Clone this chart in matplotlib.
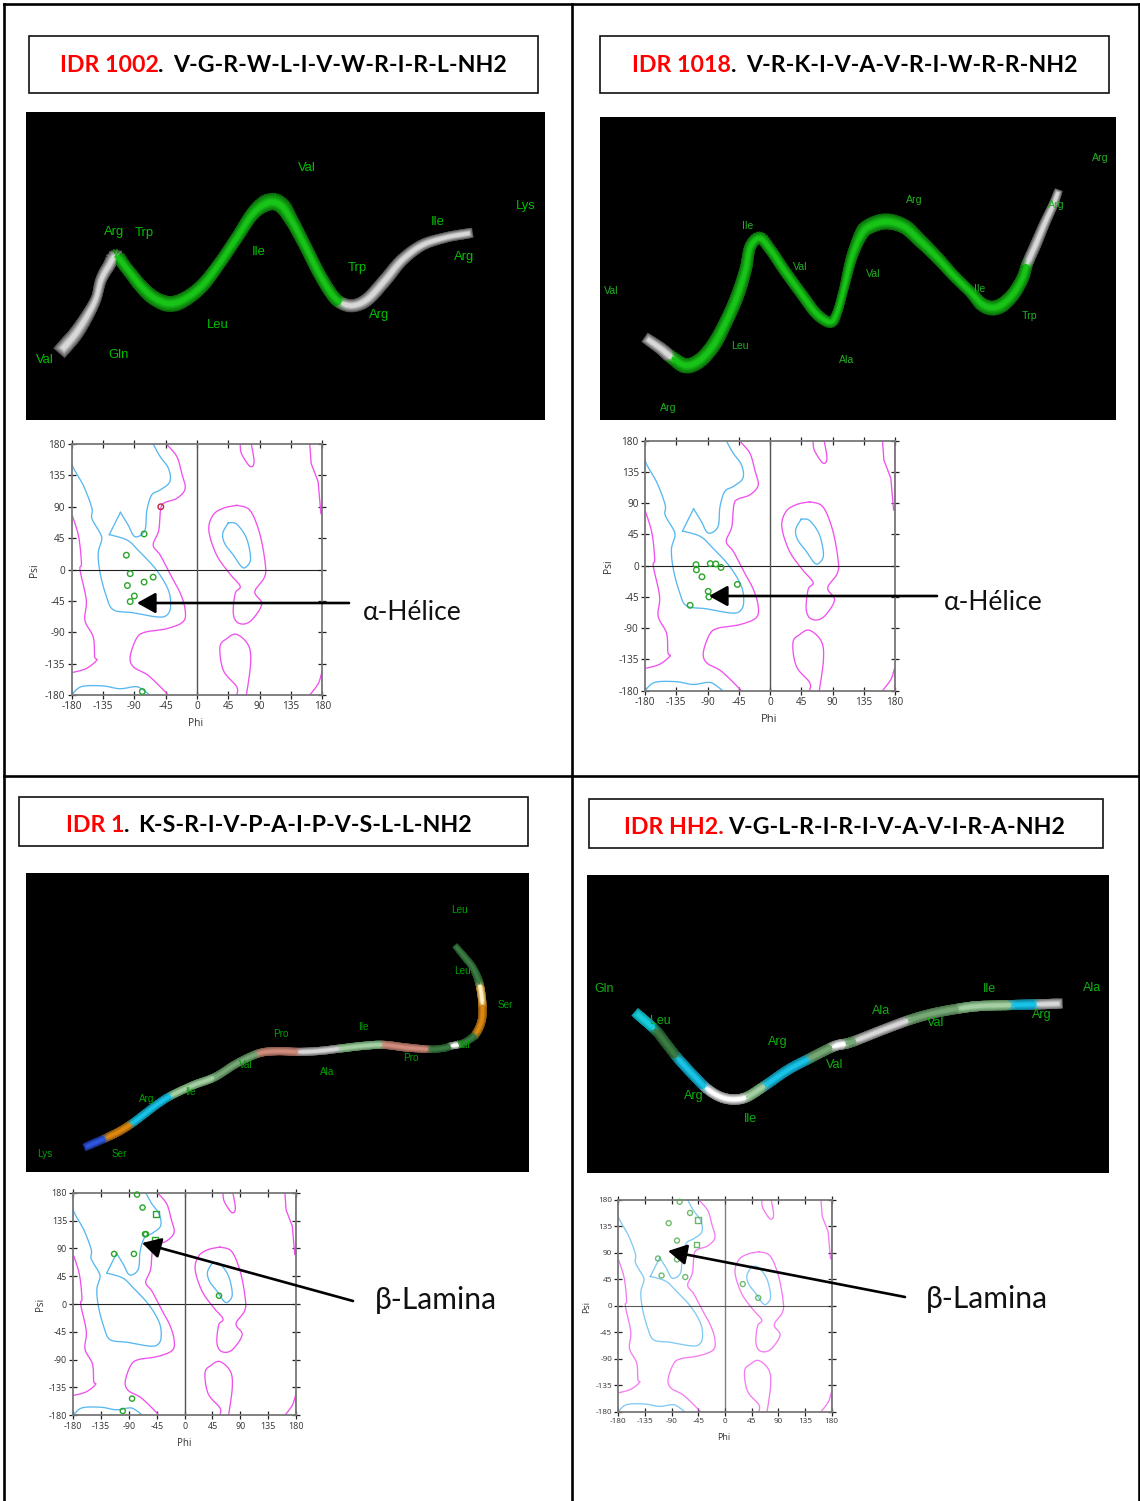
import numpy as np
import matplotlib
matplotlib.use("Agg")
import matplotlib.pyplot as plt
from matplotlib.collections import LineCollection
from matplotlib.colors import to_rgb
from matplotlib.patches import Rectangle

W, H = 1140, 1501

# contornos de Ramachandran (phi, psi), iguales en los cuatro paneles
blue_main_phi = [-180, -180, -163, -151, -151, -139, -137, -142, -139, -130, -120, -92, -58, -44, -38, -41, -58, -82, -100, -126, -110, -99, -89, -75, -72, -65, -53, -39, -41, -53, -63]
blue_main_psi = [180, 152, 120, 88, 73, 52, 42, 23, -6, -39, -58, -62, -68, -66, -54, -30, -1, 25, 42, 50, 82, 64, 47, 56, 85, 107, 114, 126, 145, 162, 180]
blue_tips = [19, 20]
blue_low_phi = [-180, -166, -135, -111, -89, -80, -68]
blue_low_psi = [-180, -168, -167, -171, -168, -171, -180]
blue_isl_phi = [45, 57, 71, 77, 71, 64, 52, 40, 37, 45]
blue_isl_psi = [67, 65, 45, 16, 4, 4, 21, 37, 52, 67]
mag_main_phi = [-44, -29, -22, -17, -29, -46, -52, -55, -63, -53, -39, -24, -17, -20, -44, -75, -87, -96, -91, -70, -44, -42]
mag_main_psi = [180, 162, 138, 116, 102, 96, 88, 56, 35, 21, -6, -34, -58, -75, -85, -90, -99, -125, -140, -152, -177, -180]
mag_left_phi = [-179, -170, -166, -168, -159, -161, -149, -147, -144, -159, -180]
mag_left_psi = [77, 47, 9, -1, -44, -73, -97, -125, -130, -142, -148]
mag_isl_phi = [57, 76, 90, 98, 97, 83, 93, 81, 69, 57, 52, 55, 62, 47, 28, 17, 23, 38, 57]
mag_isl_psi = [92, 85, 52, 9, -11, -32, -49, -70, -78, -75, -61, -34, -24, -6, 21, 56, 78, 88, 92]
mag_low_phi = [57, 57, 38, 33, 43, 57, 74, 77, 71]
mag_low_psi = [-180, -168, -145, -111, -99, -93, -109, -135, -180]
mag_top_phi = [62, 64, 76, 82, 78]
mag_top_psi = [180, 166, 148, 154, 180]
mag_tr_phi = [162, 164, 174, 178, 180, 180]
mag_tr_psi = [180, 152, 126, 80, 80, 180]
mag_br_phi = [162, 174, 179, 180, 180]
mag_br_psi = [-180, -164, -149, -149, -180]

tick_vals = [-180, -135, -90, -45, 0, 45, 90, 135, 180]

# residuos de cada panel
p1_phi = [-76, -101.5, -96, -76, -63, -100, -90, -96, -78.5]
p1_psi = [51, 20.5, -6, -18, -11, -23, -38, -46, -175]
p1_red_phi = [-52]
p1_red_psi = [90]
p2_phi = [-106.5, -106, -98, -86, -78, -70.5, -47, -89, -88, -115]
p2_psi = [1.5, -6, -16, 3, 2.5, -2.5, -27, -37, -45, -57]
p3_phi = [-77, -68, -64, -62.5, -114, -82, 55.5, -85, -100]
p3_psi = [177, 156, 113, 113, 81, 81, 13.5, -153, -173]
p3_sq_phi = [-46, -48]
p3_sq_psi = [146, 104]
p4_phi = [-76.5, -59, -95, -81, -113, -81, -107, -67, 30, 56]
p4_psi = [177, 158, 140.6, 111, 80.5, 79, 51.6, 49, 37, 13.6]
p4_sq_phi = [-46, -48]
p4_sq_psi = [146, 104]

# cintas: linea central en coordenadas de la imagen de cada panel
r1_x = [130, 165, 200, 225, 240, 262, 285, 320, 360, 400, 445, 490, 540, 590, 640, 690, 735, 770, 800, 840, 885, 925, 955, 990, 1030, 1080, 1130, 1190, 1260, 1325]
r1_y = [712, 670, 615, 565, 510, 468, 440, 480, 530, 565, 580, 565, 525, 460, 385, 310, 278, 285, 325, 400, 490, 555, 580, 585, 565, 510, 450, 405, 382, 370]
r1_w = [15, 14, 12, 10, 11, 12, 12, 12, 13, 14, 15, 14, 13, 12, 12, 13, 16, 15, 13, 12, 12, 12, 12, 12, 13, 13, 12, 11, 10, 10]
r1_col = ["grey"] * 6 + ["green"] * 16 + ["grey"] * 7

r2_x = [160, 195, 232, 270, 310, 350, 385, 420, 445, 460, 488, 520, 560, 610, 655, 695, 715, 735, 760, 790, 820, 865, 915, 960, 1010, 1060, 1110, 1150, 1190, 1230, 1262, 1280, 1305, 1330, 1355, 1368]
r2_y = [690, 715, 745, 765, 750, 705, 640, 560, 480, 410, 385, 420, 480, 550, 610, 635, 610, 540, 440, 370, 345, 335, 350, 390, 440, 495, 545, 585, 590, 560, 510, 458, 400, 340, 285, 250]
r2_w = [11, 12, 13, 14, 14, 14, 13, 13, 12, 11, 11, 11, 11, 11, 11, 10, 9, 9, 11, 13, 15, 15, 14, 13, 12, 11, 11, 13, 14, 13, 12, 11, 11, 10, 9, 8]
r2_col = ["grey"] * 2 + ["green"] * 29 + ["grey"] * 4

r3_x = [203, 260, 300, 335, 375, 415, 455, 520, 585, 650, 715, 770, 838, 900, 960, 1030, 1090, 1160, 1228, 1270, 1295, 1320, 1345, 1368, 1385, 1387, 1378, 1360, 1335, 1310]
r3_y = [827, 802, 782, 760, 730, 700, 675, 645, 620, 580, 550, 543, 545, 542, 535, 527, 524, 532, 537, 534, 527, 522, 510, 490, 450, 400, 340, 295, 262, 232]
r3_w = [8, 8, 8, 8, 8, 8, 8, 8, 8, 8, 8, 8, 8, 8, 8, 8, 8, 8, 7, 7, 7, 7, 7, 8, 8, 8, 8, 7, 7, 6]
r3_col = ["blue", "orange", "orange", "cyan", "cyan", "cyan", "pale", "pale", "moss", "moss", "salmon", "salmon", "silver", "silver", "pale", "pale", "salmon", "salmon", "dark", "dark", "white", "dark", "dark", "orange", "orange", "yellow", "dark", "dark", "dark"]

r4_x = [158, 208, 240, 275, 320, 360, 400, 440, 480, 535, 600, 665, 735, 775, 805, 880, 960, 1030, 1110, 1170, 1265, 1340, 1398]
r4_y = [435, 480, 520, 565, 615, 655, 680, 688, 680, 645, 600, 565, 530, 520, 510, 480, 450, 430, 415, 408, 405, 403, 401]
r4_w = [10, 10, 10, 10, 10, 10, 10, 10, 10, 10, 10, 10, 10, 10, 10, 10, 10, 10, 10, 10, 10, 10, 10]
r4_col = ["aqua", "dark", "dark", "cyan", "cyan", "white", "white", "white", "pale", "cyan", "cyan", "moss", "white", "moss", "silver", "silver", "moss", "moss", "pale", "pale", "cyan", "silver"]

# etiquetas de residuos
p1_res = ["Val", "Arg", "Trp", "Ile", "Lys", "Ile", "Arg", "Trp", "Arg", "Leu", "Gln", "Val"]
p1_res_x = [850, 278, 368, 705, 1495, 1235, 1315, 998, 1062, 584, 291, 75]
p1_res_y = [173, 365, 368, 425, 288, 337, 441, 473, 614, 645, 735, 748]
p2_res = ["Arg", "Arg", "Arg", "Ile", "Val", "Val", "Val", "Ile", "Trp", "Leu", "Ala", "Arg"]
p2_res_x = [1494, 1364, 943, 452, 606, 823, 49, 1138, 1286, 430, 744, 218]
p2_res_y = [145, 285, 270, 347, 472, 492, 542, 537, 617, 708, 750, 892]
p3_res = ["Leu", "Leu", "Ser", "Ile", "Pro", "Val", "Pro", "Ala", "Val", "Arg", "Ile", "Lys", "Ser"]
p3_res_x = [1318, 1328, 1457, 1031, 782, 1330, 1173, 922, 678, 380, 512, 73, 297]
p3_res_y = [119, 302, 406, 470, 490, 525, 563, 606, 585, 686, 664, 851, 852]
p4_res = ["Gln", "Leu", "Ile", "Ala", "Ala", "Arg", "Val", "Arg", "Val", "Arg", "Ile"]
p4_res_x = [58, 222, 1196, 1501, 877, 571, 1038, 1352, 737, 322, 490]
p4_res_y = [358, 452, 356, 355, 423, 517, 458, 436, 584, 677, 746]

# tonos de la cinta: borde y brillo
TONES = {
    "grey": ("#505050", "#d8d8d8"), "green": ("#0a6a0a", "#18c418"),
    "blue": ("#182c80", "#2f58e0"), "orange": ("#8a560c", "#dc8810"),
    "cyan": ("#0c7c94", "#18c4e8"), "aqua": ("#0c98a4", "#18d0dc"),
    "pale": ("#5c8a5c", "#a4d0a4"), "moss": ("#466f46", "#78a878"),
    "salmon": ("#8a5a4e", "#d08c7c"), "silver": ("#6a6a6a", "#d8d8d8"),
    "dark": ("#1f5026", "#3c7c44"), "white": ("#808080", "#ffffff"),
    "yellow": ("#a86e10", "#fff0c0"),
}


def smooth(x, y, n=8):
    # curva Catmull-Rom por los puntos leidos, solo para que el trazo no salga quebrado
    p = np.column_stack([x, y]).astype(float)
    p = np.vstack([p[0], p, p[-1]])
    out = []
    for i in range(1, len(p) - 2):
        for t in np.arange(n) / n:
            out.append(0.5 * (2 * p[i] + (p[i + 1] - p[i - 1]) * t
                              + (2 * p[i - 1] - 5 * p[i] + 4 * p[i + 1] - p[i + 2]) * t ** 2
                              + (3 * p[i] - p[i - 1] - 3 * p[i + 1] + p[i + 2]) * t ** 3))
    out.append(p[-2])
    out = np.array(out)
    return out[:, 0], out[:, 1]


def px_axes(fig, x0, y0, x1, y1, **kw):
    return fig.add_axes([x0 / W, 1 - y1 / H, (x1 - x0) / W, (y1 - y0) / H], **kw)


def draw_ribbon(ax, x, y, widths, cols, n=8):
    sx, sy = smooth(x, y, n)
    pts = np.column_stack([sx, sy])
    segs = np.stack([pts[:-1], pts[1:]], axis=1)
    w = np.repeat(np.array(widths[:-1], dtype=float), n) * 0.72
    w2 = np.repeat(np.array(widths[1:], dtype=float), n) * 0.72
    frac = np.tile(np.arange(n) / n, len(widths) - 1)
    w = w * (1 - frac) + w2 * frac
    seg_cols = [c for c in cols for _ in range(n)]
    for t in np.linspace(0, 1, 9):
        colors = []
        for c in seg_cols:
            a, b = TONES[c]
            colors.append(tuple((1 - t) * np.array(to_rgb(a)) + t * np.array(to_rgb(b))))
        ax.add_collection(LineCollection(segs, colors=colors, linewidths=w * (1 - 0.72 * t), capstyle="projecting"))


def ribbon_panel(fig, box, zoom_box, x, y, widths, cols, res, res_x, res_y, size, color):
    ax = px_axes(fig, *box)
    ax.set_facecolor("black")
    ax.set_xlim(zoom_box[0], zoom_box[1])
    ax.set_ylim(zoom_box[3], zoom_box[2])
    ax.set_xticks([])
    ax.set_yticks([])
    for s in ax.spines.values():
        s.set_visible(False)
    draw_ribbon(ax, x, y, widths, cols)
    for name, tx, ty in zip(res, res_x, res_y):
        ax.text(tx, ty, name, color=color, fontsize=size, ha="center", va="center",
                family=["Liberation Sans Narrow", "Liberation Sans"])


def rama_panel(fig, box, size, alpha=1.0):
    ax = px_axes(fig, *box)
    ax.set_xlim(-180, 180)
    ax.set_ylim(-180, 180)
    blue = "#58b8f0"
    mag = "#f050ee"
    a, b = blue_tips
    ax.plot(*smooth(blue_main_phi[:a + 1], blue_main_psi[:a + 1]), color=blue, lw=0.95, alpha=alpha)
    ax.plot(blue_main_phi[a:b + 1], blue_main_psi[a:b + 1], color=blue, lw=0.95, alpha=alpha)
    ax.plot(*smooth(blue_main_phi[b:], blue_main_psi[b:]), color=blue, lw=0.95, alpha=alpha)
    for px_, py_ in [(blue_low_phi, blue_low_psi), (blue_isl_phi, blue_isl_psi)]:
        ax.plot(*smooth(px_, py_), color=blue, lw=0.95, alpha=alpha)
    for px_, py_ in [(mag_main_phi, mag_main_psi), (mag_left_phi, mag_left_psi), (mag_isl_phi, mag_isl_psi),
                     (mag_low_phi, mag_low_psi), (mag_top_phi, mag_top_psi), (mag_br_phi, mag_br_psi)]:
        ax.plot(*smooth(px_, py_), color=mag, lw=0.95, alpha=alpha)
    ax.plot(mag_tr_phi, mag_tr_psi, color=mag, lw=0.95, alpha=alpha)
    ax.axhline(0, color="#222222", lw=0.8, alpha=alpha, clip_on=False)
    ax.axvline(0, color="#555555", lw=1.0, alpha=alpha, clip_on=False)
    ax.set_xticks(tick_vals)
    ax.set_yticks(tick_vals)
    ax.tick_params(direction="inout", length=6, width=0.9, color="#222222", top=True, right=True,
                   labelsize=size, labelcolor="#333333", pad=1.5)
    for lab in ax.get_xticklabels() + ax.get_yticklabels():
        lab.set_family("Open Sans")
    for s in ax.spines.values():
        s.set_color("#777777")
        s.set_linewidth(1.3)
    return ax


def marks(ax, phi, psi, marker="o", color="#2aa52a", s=16, alpha=1.0):
    ax.scatter(phi, psi, marker=marker, s=s, facecolors="none", edgecolors=color,
               linewidths=1.0, clip_on=False, zorder=5, alpha=alpha)


plt.rcParams["font.family"] = ["Lato", "DejaVu Sans"]
plt.rcParams["axes.unicode_minus"] = False
fig = plt.figure(figsize=(W / 100, H / 100), dpi=100, facecolor="white")

ribbon_panel(fig, (26, 112, 545, 420), (18, 1553, 6, 929), r1_x, r1_y, r1_w, r1_col,
             p1_res, p1_res_x, p1_res_y, 9.4, "#00c000")
ribbon_panel(fig, (600, 117, 1116, 420), (15, 1541, 21, 929), r2_x, r2_y, r2_w, r2_col,
             p2_res, p2_res_x, p2_res_y, 7.6, "#22b022")
ribbon_panel(fig, (26, 873, 529, 1172), (18, 1527, 9, 905), r3_x, r3_y, r3_w, r3_col,
             p3_res, p3_res_x, p3_res_y, 7.2, "#00a000")
ribbon_panel(fig, (587, 875, 1109, 1173), (6, 1550, 15, 909), r4_x, r4_y, r4_w, r4_col,
             p4_res, p4_res_x, p4_res_y, 9.0, "#10b010")

ax1 = rama_panel(fig, (71.7, 444, 322.3, 695), 7.2)
marks(ax1, p1_phi, p1_psi)
marks(ax1, p1_red_phi, p1_red_psi, color="#c02040")
ax2 = rama_panel(fig, (645, 440.7, 895, 690.7), 7.2)
marks(ax2, p2_phi, p2_psi)
ax3 = rama_panel(fig, (73.3, 1192.7, 296, 1415.3), 6.4)
marks(ax3, p3_phi, p3_psi, s=14)
marks(ax3, p3_sq_phi, p3_sq_psi, marker="s", s=16)
ax4 = rama_panel(fig, (618.3, 1200, 831.7, 1411.7), 5.9, alpha=0.75)
marks(ax4, p4_phi, p4_psi, color="#55b055", s=13, alpha=0.85)
marks(ax4, p4_sq_phi, p4_sq_psi, marker="s", color="#55b055", s=16, alpha=0.9)

# capa de pagina con marcos, titulos y flechas, en pixeles
page = fig.add_axes([0, 0, 1, 1], zorder=20)
page.set_xlim(0, W)
page.set_ylim(H, 0)
page.axis("off")
page.patch.set_alpha(0)

for x in [4, 572, 1139]:
    page.plot([x, x], [4, H], color="black", lw=1.9, solid_capstyle="projecting")
page.plot([4, 1139], [4, 4], color="black", lw=1.9)
page.plot([4, 1139], [776, 776], color="black", lw=1.9)

boxes = [(29, 36, 538, 93), (600, 36, 1109, 93), (19, 797, 528, 846), (589, 799, 1103, 848)]
for x0, y0, x1, y1 in boxes:
    page.add_patch(Rectangle((x0, y0), x1 - x0, y1 - y0, fill=False, ec="#111111", lw=1.2))

title_red = ["IDR 1002", "IDR 1018", "IDR 1", "IDR HH2."]
title_seq = ["V-G-R-W-L-I-V-W-R-I-R-L-NH2", "V-R-K-I-V-A-V-R-I-W-R-R-NH2", "K-S-R-I-V-P-A-I-P-V-S-L-L-NH2", "V-G-L-R-I-R-I-V-A-V-I-R-A-NH2"]
red_x = [60, 632, 66, 624]
dot_x = [158, 731, 124, None]
seq_x = [173, 746, 138, 728]
title_y = [66, 66, 826, 828]
for red, seq, xr, xd, xs, yt in zip(title_red, title_seq, red_x, dot_x, seq_x, title_y):
    page.text(xr, yt, red, color="#ff0000", fontsize=16.7, fontweight="bold", ha="left", va="center")
    if xd is not None:
        page.text(xd, yt, ".", color="black", fontsize=16.7, fontweight="bold", ha="left", va="center")
    page.text(xs, yt, seq, color="black", fontsize=16.7, fontweight="bold", ha="left", va="center")

arrows = [(349, 603, 137, 603), (937, 596, 709, 596), (353, 1301, 142, 1243), (905, 1297, 668, 1251)]
for x0, y0, x1, y1 in arrows:
    page.annotate("", xy=(x1, y1), xytext=(x0, y0),
                  arrowprops=dict(arrowstyle="-|>,head_length=0.45,head_width=0.25", mutation_scale=25,
                                  lw=1.9, color="black", shrinkA=0, shrinkB=0))

labels = [("α-Hélice", 363, 613, 19), ("α-Hélice", 944, 603, 19), ("β-Lamina", 375, 1300, 21.6), ("β-Lamina", 926, 1299, 21.6)]
for txt, x, y, size in labels:
    page.text(x, y, txt, fontsize=size, color="#111111", ha="left", va="center")

axis_font = ["Open Sans", "DejaVu Sans"]
for x, y, size in [(196, 723, 7.4), (769, 720, 8), (184, 1443, 7), (724, 1438, 6.5)]:
    page.text(x, y, "Phi", fontsize=size, color="#333333", ha="center", va="center", family=axis_font)
for x, y, size in [(35, 570, 7.4), (608, 566, 7.4), (41, 1304, 7), (587, 1307, 6.5)]:
    page.text(x, y, "Psi", fontsize=size, color="#333333", ha="center", va="center", rotation=90, family=axis_font)

# el Phi del primer panel sale cortado en la imagen original
page.add_patch(Rectangle((170, 727), 60, 12, fc="white", ec="none", zorder=6))

fig.savefig("out.png", dpi=100)
